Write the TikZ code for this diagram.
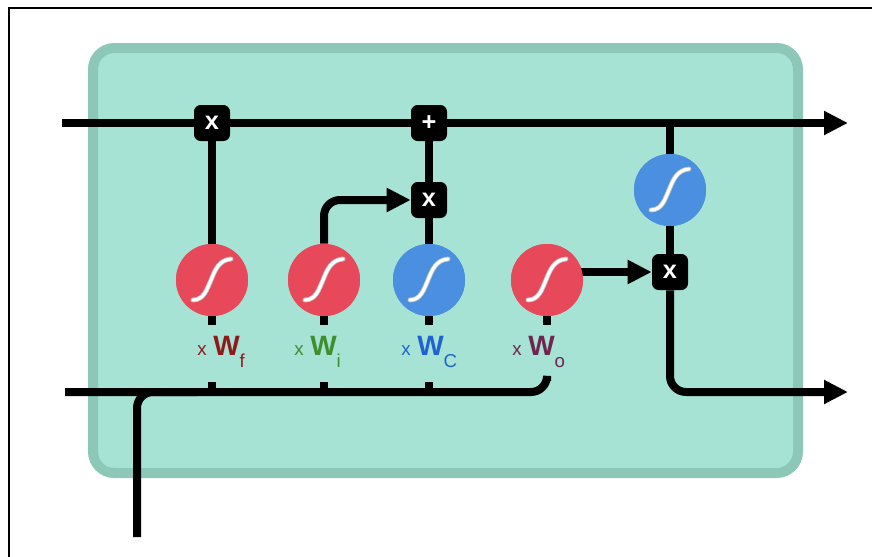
\documentclass[tikz,border=0pt]{standalone}
\usepackage{fontspec}
\setmainfont{Liberation Sans}
\usetikzlibrary{arrows.meta,calc}
\definecolor{cellfill}{HTML}{A6E3D4}
\definecolor{cellrim}{HTML}{8DC7B7}
\definecolor{sigred}{HTML}{E8495A}
\definecolor{tanhblue}{HTML}{4A8FE0}
\definecolor{wfcol}{HTML}{8E1B1B}
\definecolor{wicol}{HTML}{3E8E2E}
\definecolor{wccol}{HTML}{1F62D0}
\definecolor{wocol}{HTML}{6E2550}
\newcommand\sigpath{(-19,20) .. controls (-8,20) and (-5,9) .. (-1,0)
  .. controls (3,-10) and (7,-20) .. (19,-21)}
\newcommand\sigcurve[1]{%
  \draw[line width=3.6pt, black!22, line cap=round, shift={(#1.center)}] \sigpath;
  \draw[line width=2.3pt, white, line cap=round, shift={(#1.center)}] \sigpath;}
\newcommand\wlabel[1]{%
  {\fontsize{14}{14}\selectfont x}\hspace{5pt}%
  {\bfseries\fontsize{21}{21}\selectfont W}%
  \raisebox{-9pt}{\fontsize{14}{14}\selectfont #1}}
\begin{document}
\begin{tikzpicture}[x=0.75pt, y=-0.75pt,
  wire/.style={line width=6pt, black},
  flow/.style={wire, -{Triangle[length=18pt, width=17pt]}},
  op/.style={fill=black, rounded corners=5pt, minimum size=27pt, inner sep=0pt,
    text=white, font=\bfseries\fontsize{19}{19}\selectfont},
  gate/.style={circle, minimum size=54pt, inner sep=0pt},
  lbl/.style={anchor=base west, inner sep=0pt},
]
\useasboundingbox (0,0) rectangle (872,557);
% frame
\draw[line width=1.5pt] (9,557) -- (9,7.5) -- (872,7.5);
% cell body
\draw[cellrim, fill=cellfill, line width=7.5pt, rounded corners=16pt]
  (93,48) rectangle (798,473);

% end points of the through lines
\coordinate (cin)  at (62,123);
\coordinate (cout) at (848,123);
\coordinate (hin)  at (65,392);
\coordinate (hout) at (848,392);
\coordinate (xin)  at (137,537);
\coordinate (hbus) at (547,392);

% pointwise operations
\node[op] (fx) at (212,123) {x};
\node[op] (ad) at (429,123) {+};
\node[op] (ix) at (429,200) {x};
\node[op] (ox) at (670,272) {x};

% layers
\node[gate, fill=sigred]   (sf) at (212,280) {};
\node[gate, fill=sigred]   (si) at (324,280) {};
\node[gate, fill=tanhblue] (sc) at (429,280) {};
\node[gate, fill=sigred]   (so) at (547,280) {};
\node[gate, fill=tanhblue] (th) at (670,190) {};

% cell state line
\draw[flow] (cin) -- (fx) -- (ad) -- (cout);
\draw[wire] (fx) -- (sf);
\draw[wire] (ad) -- (ix) -- (sc);
\draw[flow, rounded corners=12pt] (si.north) |- (ix.west);
\draw[wire] (th |- cout) -- (th) -- (ox);
\draw[flow] (so.center |- ox) -- (ox.west);
\draw[flow, rounded corners=12pt] (ox.south) |- (hout);

% input bus
\draw[wire, rounded corners=12pt] (hin) -- (hbus) -- ++(0,-11);
\draw[wire, rounded corners=12pt] (xin) |- ($(xin |- hin)+(60,0)$);
\foreach \g in {sf,si,sc}{
  \draw[wire] (\g |- hin) -- ++(0,-10);
}
\foreach \g in {sf,si,sc,so}{
  \draw[wire] (\g.south) -- ++(0,9);
}

% layers drawn again over the stubs and the output arrow start
\foreach \g/\c in {sf/sigred,si/sigred,sc/tanhblue,so/sigred,th/tanhblue}{
  \fill[\c] (\g) circle[radius=27pt];
  \sigcurve{\g}
}

% weight labels
\node[lbl, text=wfcol] (lf) at (197,355) {\wlabel{f}};
\node[lbl, text=wicol] (li) at (294,355) {\wlabel{i}};
\node[lbl, text=wccol] (lc) at (401,355) {\wlabel{C}};
\node[lbl, text=wocol] (lo) at (512,355) {\wlabel{o}};
\end{tikzpicture}
\end{document}
